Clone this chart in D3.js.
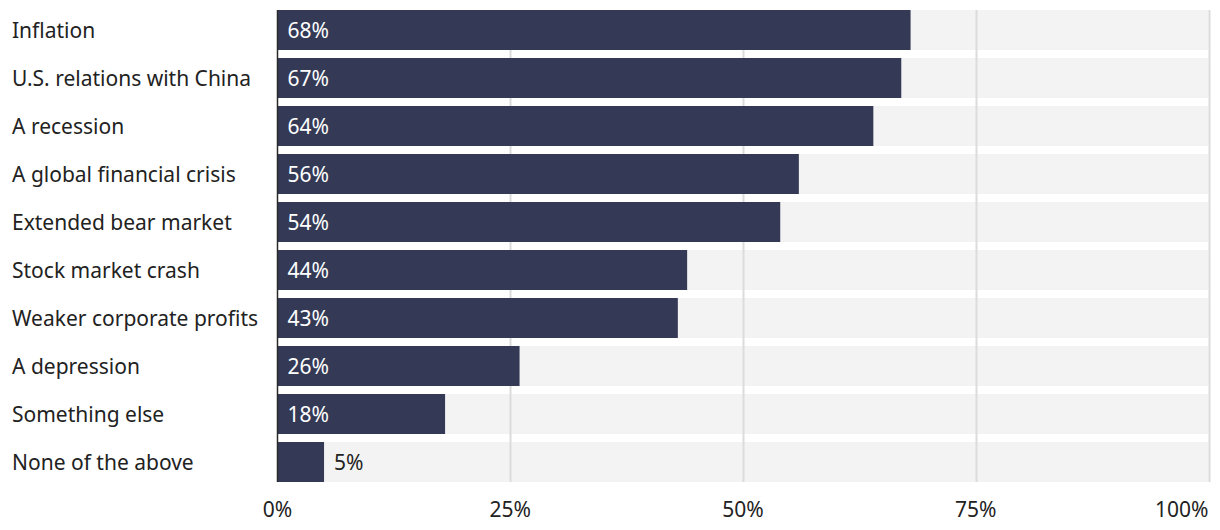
<!DOCTYPE html>
<html>
<head>
<meta charset="utf-8">
<script src="https://cdn.jsdelivr.net/npm/d3@7"></script>
<style>
  html, body { margin: 0; padding: 0; background: #fff; }
  svg { display: block; }
  text { font-family: "Noto Sans", "Open Sans", sans-serif; }
</style>
</head>
<body>
<svg id="chart" width="1220" height="530"></svg>
<script>
const categories = [
  "Inflation",
  "U.S. relations with China",
  "A recession",
  "A global financial crisis",
  "Extended bear market",
  "Stock market crash",
  "Weaker corporate profits",
  "A depression",
  "Something else",
  "None of the above"
];
const values = [68, 67, 64, 56, 54, 44, 43, 26, 18, 5];
const tickValues = [0, 25, 50, 75, 100];
const tickLabels = ["0%", "25%", "50%", "75%", "100%"];

const svg = d3.select("#chart");
const x0 = 277.5, x1 = 1208.5;
const x = d3.scaleLinear().domain([0, 100]).range([x0, x1]);
const y = d3.scaleBand().domain(categories).range([10, 482]).paddingInner(8 / 48).paddingOuter(0);

const FONT = 21;
const barColor = "#343a56";
const textColor = "#222";

// background bars
svg.append("g").selectAll("rect").data(categories).join("rect")
  .attr("x", x(0)).attr("y", d => y(d))
  .attr("width", x(100) - x(0)).attr("height", y.bandwidth())
  .attr("fill", "#f3f3f3");

// gridlines
svg.append("g").selectAll("line").data(tickValues.slice(1)).join("line")
  .attr("x1", d => Math.round(x(d)) + 0.5).attr("x2", d => Math.round(x(d)) + 0.5)
  .attr("y1", 10).attr("y2", 482)
  .attr("stroke", "#dcdcdc").attr("stroke-width", 2);

// bars
svg.append("g").selectAll("rect").data(values).join("rect")
  .attr("x", x(0)).attr("y", (d, i) => y(categories[i]))
  .attr("width", d => x(d) - x(0)).attr("height", y.bandwidth())
  .attr("fill", barColor);

// axis line
svg.append("line")
  .attr("x1", x(0)).attr("x2", x(0)).attr("y1", 10).attr("y2", 482)
  .attr("stroke", "#2a2a2a").attr("stroke-width", 1.5);

// value labels
svg.append("g").selectAll("text").data(values).join("text")
  .attr("x", d => d >= 10 ? x(0) + 10 : x(d) + 10)
  .attr("y", (d, i) => y(categories[i]) + y.bandwidth() / 2)
  .attr("dy", "0.4em")
  .attr("font-size", FONT)
  .attr("fill", d => d >= 10 ? "#ffffff" : textColor)
  .text(d => d + "%");

// category labels
svg.append("g").selectAll("text").data(categories).join("text")
  .attr("x", 12)
  .attr("y", d => y(d) + y.bandwidth() / 2)
  .attr("dy", "0.4em")
  .attr("font-size", FONT)
  .attr("fill", textColor)
  .text(d => d);

// x axis tick labels
svg.append("g").selectAll("text").data(tickValues).join("text")
  .attr("x", d => x(d))
  .attr("y", 509)
  .attr("dy", "0.4em")
  .attr("text-anchor", (d, i) => i === tickValues.length - 1 ? "end" : "middle")
  .attr("font-size", FONT)
  .attr("fill", textColor)
  .text((d, i) => tickLabels[i]);
</script>
</body>
</html>
